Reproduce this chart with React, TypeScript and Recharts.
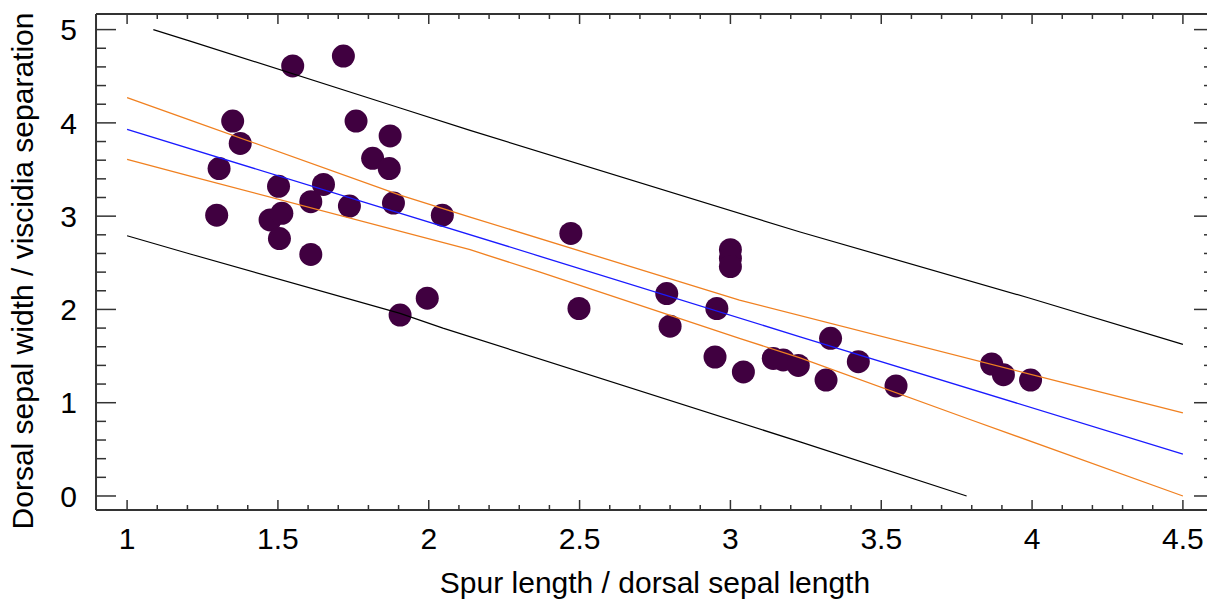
import React from 'react';
import { ComposedChart, XAxis, YAxis, Scatter, Label } from 'recharts';

// Tick positions
const xMajorTicks = [1, 1.5, 2, 2.5, 3, 3.5, 4, 4.5];
const xMinorTicks = [1.1, 1.2, 1.3, 1.4, 1.6, 1.7, 1.8, 1.9, 2.1, 2.2, 2.3, 2.4, 2.6, 2.7, 2.8, 2.9, 3.1, 3.2, 3.3, 3.4, 3.6, 3.7, 3.8, 3.9, 4.1, 4.2, 4.3, 4.4];
const yMajorTicks = [0, 1, 2, 3, 4, 5];
const yMinorTicks = [0.2, 0.4, 0.6, 0.8, 1.2, 1.4, 1.6, 1.8, 2.2, 2.4, 2.6, 2.8, 3.2, 3.4, 3.6, 3.8, 4.2, 4.4, 4.6, 4.8];

// Observations
const spurRatio = [1.305, 1.297, 1.35, 1.375, 1.502, 1.474, 1.513, 1.505, 1.549, 1.609, 1.609, 1.651, 1.717, 1.737, 1.759, 1.814, 1.869, 1.872, 1.883, 2.045, 1.995, 1.905, 2.471, 2.498, 2.789, 2.8, 3.0, 3.0, 3.0, 2.955, 2.949, 3.043, 3.142, 3.175, 3.225, 3.317, 3.332, 3.424, 3.549, 3.866, 3.905, 3.995];
const sepalRatio = [3.51, 3.01, 4.02, 3.78, 3.32, 2.96, 3.03, 2.76, 4.61, 2.59, 3.155, 3.34, 4.716, 3.108, 4.02, 3.62, 3.51, 3.86, 3.14, 3.01, 2.12, 1.94, 2.815, 2.01, 2.17, 1.82, 2.64, 2.55, 2.46, 2.01, 1.49, 1.33, 1.475, 1.458, 1.4, 1.243, 1.69, 1.44, 1.18, 1.415, 1.3, 1.243];

// Fitted line
const fitX = [1, 2.369, 3.231, 4.5];
const fitY = [3.93, 2.57, 1.707, 0.45];
// Confidence band
const confUpperX = [1, 1.209, 1.905, 2.137, 3.03, 4.09, 4.5];
const confUpperY = [4.27, 4.03, 3.226, 2.99, 2.1, 1.225, 0.89];
const confLowerX = [1, 1.209, 2.137, 2.369, 3.03, 3.231, 3.794, 4.5];
const confLowerY = [3.61, 3.43, 2.64, 2.4, 1.69, 1.48, 0.82, 0.0];
// Prediction band
const predUpperX = [1.087, 1.209, 1.905, 2.137, 3.231, 3.993, 4.5];
const predUpperY = [5.0, 4.877, 4.16, 3.92, 2.83, 2.12, 1.626];
const predLowerX = [1, 1.209, 1.905, 2.047, 3.231, 3.783];
const predLowerY = [2.79, 2.594, 1.958, 1.8, 0.58, 0.0];

const zip = (xs: number[], ys: number[]) => xs.map((x, i) => ({ x, y: ys[i] }));

const points = zip(spurRatio, sepalRatio);
const fitData = zip(fitX, fitY);
const confUpper = zip(confUpperX, confUpperY);
const confLower = zip(confLowerX, confLowerY);
const predUpper = zip(predUpperX, predUpperY);
const predLower = zip(predLowerX, predLowerY);

const FONT = '"Liberation Sans", Arial, sans-serif';
const AXIS = '#333333';
const X_DOMAIN: [number, number] = [0.897, 4.603];
const Y_DOMAIN: [number, number] = [-0.15, 5.167];
const THIN = 0.01;

const Dot = (props: any) => (
  <circle cx={props.cx} cy={props.cy} r={11.5} fill="#400040" />
);
const NoDot = () => <g />;
const NoTick = () => <g />;

const lineSeries = [
  { key: 'predUpper', data: predUpper, color: '#000000', width: 1.2 },
  { key: 'predLower', data: predLower, color: '#000000', width: 1.2 },
  { key: 'confUpper', data: confUpper, color: '#f08020', width: 1.3 },
  { key: 'confLower', data: confLower, color: '#f08020', width: 1.3 },
  { key: 'fit', data: fitData, color: '#1a1aff', width: 1.3 },
];

export default function App() {
  const tickStyle = { fill: '#000', fontSize: 30, fontFamily: FONT };
  const tickLine = { stroke: AXIS, strokeWidth: 1.5 };
  return (
    <div style={{ position: 'absolute', left: 0, top: 0, width: 1207, height: 603, overflow: 'hidden', background: '#fff' }}>
      <ComposedChart width={1220} height={603} margin={{ top: 14, right: 6, bottom: 93, left: 96 }}>
        <XAxis xAxisId="x" type="number" dataKey="x" domain={X_DOMAIN} ticks={xMajorTicks} interval={0}
          orientation="bottom" height={THIN} tickSize={-10} tickMargin={28}
          axisLine={{ stroke: AXIS, strokeWidth: 2 }} tickLine={tickLine}
          tick={tickStyle} allowDataOverflow>
          <Label position="bottom" offset={62} value="Spur length / dorsal sepal length"
            style={{ fill: '#000', fontSize: 30, fontFamily: FONT }} />
        </XAxis>
        <XAxis xAxisId="xm" type="number" dataKey="x" domain={X_DOMAIN} ticks={xMinorTicks} interval={0}
          orientation="bottom" height={THIN} tickSize={-5} axisLine={false}
          tickLine={tickLine} tick={NoTick} allowDataOverflow />
        <XAxis xAxisId="xt" type="number" dataKey="x" domain={X_DOMAIN} ticks={xMajorTicks} interval={0}
          orientation="top" height={THIN} tickSize={-10}
          axisLine={{ stroke: AXIS, strokeWidth: 2 }} tickLine={tickLine}
          tick={NoTick} allowDataOverflow />
        <XAxis xAxisId="xtm" type="number" dataKey="x" domain={X_DOMAIN} ticks={xMinorTicks} interval={0}
          orientation="top" height={THIN} tickSize={-5} axisLine={false}
          tickLine={tickLine} tick={NoTick} allowDataOverflow />

        <YAxis yAxisId="y" type="number" dataKey="y" domain={Y_DOMAIN} ticks={yMajorTicks} interval={0}
          orientation="left" width={THIN} tickSize={-20} tickMargin={39}
          axisLine={{ stroke: AXIS, strokeWidth: 2 }} tickLine={tickLine}
          tick={tickStyle} allowDataOverflow>
          <Label content={() => (
            <text x={22} y={271} transform="rotate(-90 22 271)" textAnchor="middle" dominantBaseline="central"
              fill="#000" fontSize={30} fontFamily={FONT}>Dorsal sepal width / viscidia separation</text>
          )} />
        </YAxis>
        <YAxis yAxisId="ym" type="number" dataKey="y" domain={Y_DOMAIN} ticks={yMinorTicks} interval={0}
          orientation="left" width={THIN} tickSize={-10} axisLine={false}
          tickLine={tickLine} tick={NoTick} allowDataOverflow />
        <YAxis yAxisId="yr" type="number" dataKey="y" domain={Y_DOMAIN} ticks={yMajorTicks} interval={0}
          orientation="right" width={THIN} tickSize={-20}
          axisLine={{ stroke: AXIS, strokeWidth: 2 }} tickLine={tickLine}
          tick={NoTick} allowDataOverflow />
        <YAxis yAxisId="yrm" type="number" dataKey="y" domain={Y_DOMAIN} ticks={yMinorTicks} interval={0}
          orientation="right" width={THIN} tickSize={-10} axisLine={false}
          tickLine={tickLine} tick={NoTick} allowDataOverflow />

        <Scatter xAxisId="x" yAxisId="y" data={points} shape={Dot} isAnimationActive={false} />

        {lineSeries.map((s) => (
          <Scatter key={s.key} name={s.key} xAxisId="x" yAxisId="y" data={s.data} shape={NoDot}
            line={{ stroke: s.color, strokeWidth: s.width, fill: 'none' }} lineType="joint"
            isAnimationActive={false} />
        ))}
      </ComposedChart>
    </div>
  );
}
